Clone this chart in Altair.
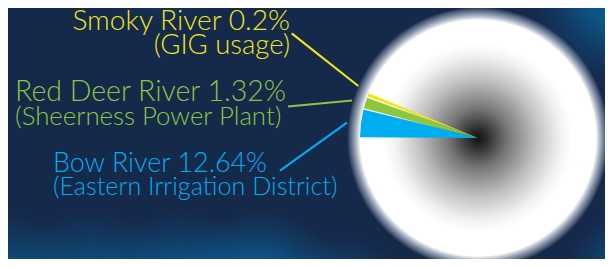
import math
import altair as alt
import pandas as pd

# ---------------- data ----------------
sources = ["Smoky River", "Red Deer River", "Bow River"]
percents = ["0.2%", "1.32%", "12.64%"]
users = ["(GIG usage)", "(Sheerness Power Plant)", "(Eastern Irrigation District)"]
# angular size of each wedge as drawn in the picture (degrees)
wedge_deg = [2.3, 6.0, 14.3]
colors = ["#f2e619", "#8dc63f", "#00aeef"]

# ---------------- layout (page pixel coordinates) ----------------
W, H = 597, 251
M = 8
CX, CY, R = 478, 138, 118
label_x = [290, 15, 53]
label_y = [30, 100.7, 171.7]
label_gap = [23.5, 24.5, 23.5]
label_align = ["right", "left", "left"]
label_size = [[28.2, 27.5], [28.5, 25.8], [26.9, 25.2]]
leader_x1 = [291.7, 288, 280]
leader_y1 = [33.3, 106.5, 170.7]
leader_x2 = [358.3, 352, 347]
leader_y2 = [86, 100.5, 122.7]
# soft background glows: centre x, centre y, radius, alpha
glow_cx = [0, 90, 180, 260, 340, 645, 630, 160]
glow_cy = [300, 305, 305, 300, 310, 290, -15, -55]
glow_r = [90, 95, 95, 90, 75, 85, 100, 80]
glow_a = [0.75, 0.8, 0.9, 1.0, 0.7, 0.9, 1.0, 0.6]

xs = alt.Scale(domain=[M, M + W], nice=False, zero=False)
ys = alt.Scale(domain=[M, M + H], nice=False, zero=False, reverse=True)

center = pd.DataFrame({"cx": [CX], "cy": [CY]})
one = pd.DataFrame({"k": [0]})

def pos(df_chart):
    return df_chart.encode(
        x=alt.X("cx:Q", scale=xs, axis=None),
        y=alt.Y("cy:Q", scale=ys, axis=None),
    )

TWO_PI = 2 * math.pi

# ---------------- background ----------------
bg = alt.Chart(one).mark_rect(fill="#15294b").encode(
    x=alt.value(0), x2=alt.value(W), y=alt.value(0), y2=alt.value(H))

def blob(cx, cy, r, a):
    return pos(alt.Chart(pd.DataFrame({"cx": [cx], "cy": [cy]})).mark_arc(
        radius=r, theta=0, theta2=TWO_PI,
        fill=alt.Gradient(
            gradient="radial",
            stops=[
                alt.GradientStop(color=f"rgba(10,96,148,{a})", offset=0.0),
                alt.GradientStop(color=f"rgba(10,96,148,{a * 0.8})", offset=0.45),
                alt.GradientStop(color=f"rgba(10,96,148,{a * 0.3})", offset=0.75),
                alt.GradientStop(color="rgba(10,96,148,0)", offset=1.0),
            ],
        ),
    ))

blobs = [blob(*p) for p in zip(glow_cx, glow_cy, glow_r, glow_a)]

glow = pos(alt.Chart(center).mark_arc(
    radius=R + 13, theta=0, theta2=TWO_PI,
    fill=alt.Gradient(
        gradient="radial",
        stops=[
            alt.GradientStop(color="rgba(255,255,255,1)", offset=0.0),
            alt.GradientStop(color="rgba(255,255,255,1)", offset=0.90),
            alt.GradientStop(color="rgba(220,228,240,0.55)", offset=0.95),
            alt.GradientStop(color="rgba(255,255,255,0)", offset=1.0),
        ],
    ),
))

disk = pos(alt.Chart(center).mark_arc(
    radius=R, theta=0, theta2=TWO_PI,
    fill=alt.Gradient(
        gradient="radial",
        stops=[
            alt.GradientStop(color="#121212", offset=0.0),
            alt.GradientStop(color="#2e2e2e", offset=0.08),
            alt.GradientStop(color="#767676", offset=0.25),
            alt.GradientStop(color="#c2c2c2", offset=0.5),
            alt.GradientStop(color="#f2f2f2", offset=0.7),
            alt.GradientStop(color="#ffffff", offset=0.8),
            alt.GradientStop(color="#ffffff", offset=1.0),
        ],
    ),
))

# wedges, clockwise from 9 o'clock: Bow, Red Deer, Smoky, then the rest
w_names = ["Bow River", "Red Deer River", "Smoky River", "rest"]
w_vals = [wedge_deg[2], wedge_deg[1], wedge_deg[0], 360 - sum(wedge_deg)]
wedges_df = pd.DataFrame({
    "name": w_names, "deg": w_vals, "idx": [0, 1, 2, 3],
    "cx": [CX] * 4, "cy": [CY] * 4,
})
wedges = pos(alt.Chart(wedges_df).mark_arc(radius=R, padAngle=0.012)).encode(
    theta=alt.Theta("deg:Q", stack=True,
                    scale=alt.Scale(domain=[0, 360], range=[1.5 * math.pi, 3.5 * math.pi])),
    order=alt.Order("idx:Q"),
    color=alt.Color("name:N", legend=None,
                    scale=alt.Scale(domain=w_names,
                                    range=[colors[2], colors[1], colors[0], "rgba(0,0,0,0)"])),
)

# leader lines
lines_df = pd.DataFrame({
    "name": sources, "x1": leader_x1, "y1": leader_y1, "x2": leader_x2, "y2": leader_y2,
})
leaders = alt.Chart(lines_df).mark_rule(strokeWidth=2.2).encode(
    x=alt.X("x1:Q", scale=xs, axis=None),
    y=alt.Y("y1:Q", scale=ys, axis=None),
    x2="x2:Q", y2="y2:Q",
    color=alt.Color("name:N", legend=None, scale=alt.Scale(domain=sources, range=colors)),
)

# labels
rows = []
for i, s in enumerate(sources):
    rows.append({"name": s, "text": f"{s} {percents[i]}", "x": label_x[i], "y": label_y[i],
                 "align": label_align[i], "fs": label_size[i][0]})
    rows.append({"name": s, "text": users[i], "x": label_x[i], "y": label_y[i] + label_gap[i],
                 "align": label_align[i], "fs": label_size[i][1]})
labels_df = pd.DataFrame(rows)

def text_layer(align):
    return alt.Chart(labels_df).transform_filter(
        alt.datum.align == align
    ).mark_text(align=align, baseline="alphabetic", font="Lato", fontWeight=300).encode(
        x=alt.X("x:Q", scale=xs, axis=None),
        y=alt.Y("y:Q", scale=ys, axis=None),
        text="text:N",
        size=alt.Size("fs:Q", scale=None, legend=None),
        color=alt.Color("name:N", legend=None, scale=alt.Scale(domain=sources, range=colors)),
    )

chart = alt.layer(
    bg, *blobs, glow, disk, wedges, leaders, text_layer("right"), text_layer("left")
).properties(
    width=W, height=H, padding=0,
    autosize=alt.AutoSizeParams(type="none"),
    background="#15294b",
).configure_view(strokeWidth=0)

chart.save("out.html", embed_options={"renderer": "svg", "actions": False})
